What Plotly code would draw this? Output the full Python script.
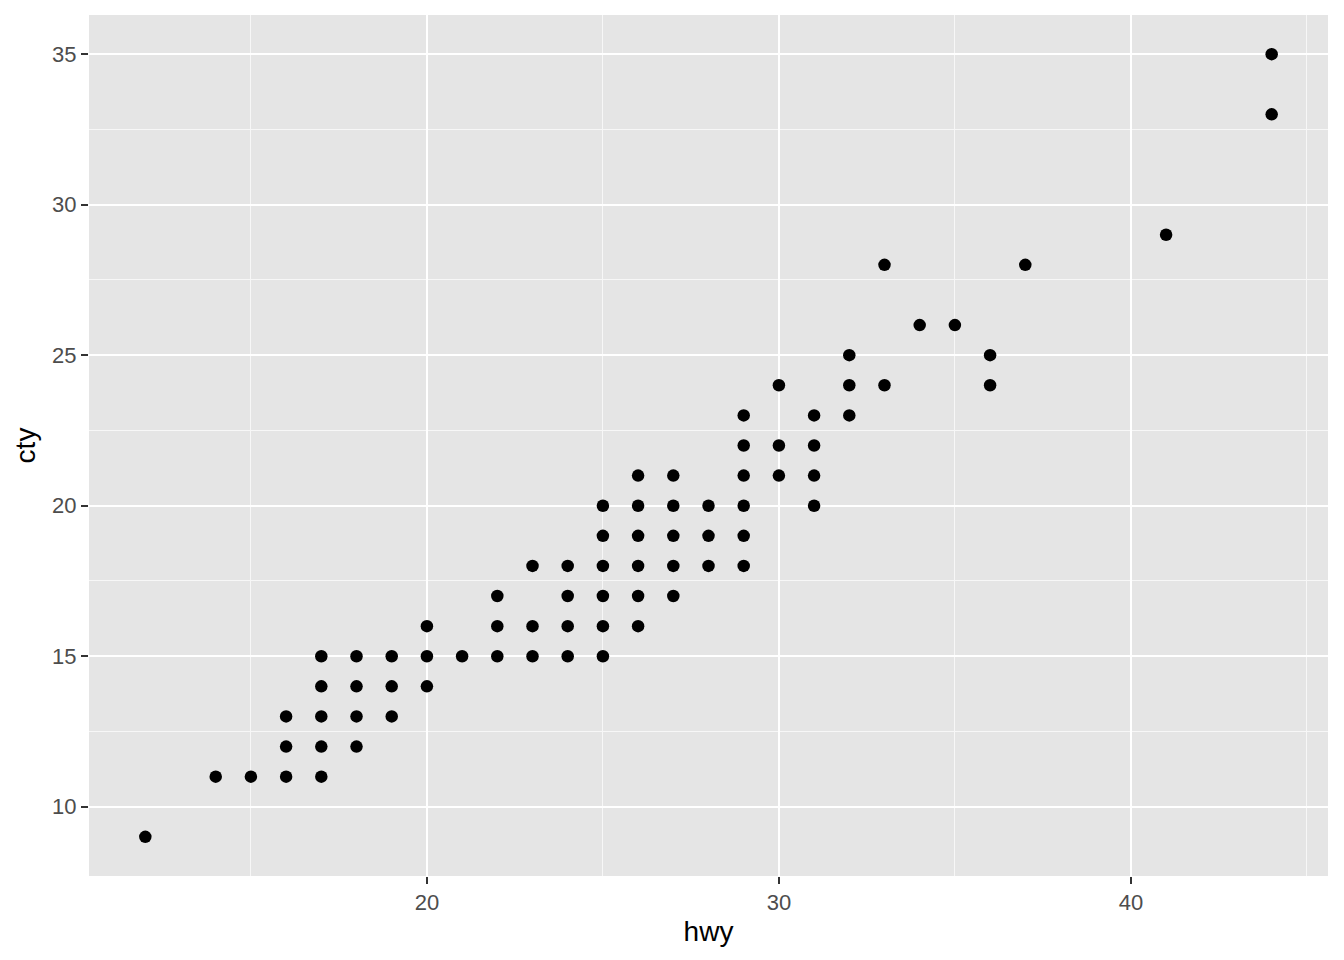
import plotly.graph_objects as go

# hwy -> cty values observed
hwy_vals = [12, 14, 15, 16, 16, 16, 17, 17, 17, 17, 17, 18, 18, 18, 18,
            19, 19, 19, 20, 20, 20, 21, 22, 22, 22, 23, 23, 23,
            24, 24, 24, 24, 25, 25, 25, 25, 25, 25,
            26, 26, 26, 26, 26, 26, 27, 27, 27, 27, 27,
            28, 28, 28, 29, 29, 29, 29, 29, 29, 30, 30, 30,
            31, 31, 31, 31, 32, 32, 32, 33, 33, 34, 35, 36, 36, 37, 41, 44, 44]
cty_vals = [9, 11, 11, 11, 12, 13, 11, 12, 13, 14, 15, 12, 13, 14, 15,
            13, 14, 15, 14, 15, 16, 15, 15, 16, 17, 15, 16, 18,
            15, 16, 17, 18, 15, 16, 17, 18, 19, 20,
            16, 17, 18, 19, 20, 21, 17, 18, 19, 20, 21,
            18, 19, 20, 18, 19, 20, 21, 22, 23, 21, 22, 24,
            20, 21, 22, 23, 23, 24, 25, 24, 28, 26, 26, 24, 25, 28, 29, 33, 35]

x_ticks = [20, 30, 40]
y_ticks = [10, 15, 20, 25, 30, 35]

fig = go.Figure(go.Scatter(
    x=hwy_vals, y=cty_vals, mode="markers",
    marker=dict(color="black", size=12.5, line=dict(width=0)),
    showlegend=False,
))

font_family = "Liberation Sans, Arial, sans-serif"
axis_common = dict(
    showgrid=True, gridcolor="white", gridwidth=2,
    zeroline=False, showline=False,
    ticks="outside", ticklen=7, tickwidth=2, tickcolor="#333333",
    tickfont=dict(family=font_family, size=22, color="#4D4D4D"),
)

fig.update_layout(
    width=1336, height=952,
    margin=dict(l=81, r=16, t=7, b=84),
    paper_bgcolor="white", plot_bgcolor="#E5E5E5",
    font=dict(family=font_family),
    xaxis=dict(range=[10.4, 45.6], tickvals=x_ticks,
               minor=dict(tickvals=[15, 25, 35, 45], showgrid=True, gridcolor="#F7F7F7", gridwidth=1.4, ticks=""),
               title=dict(text="hwy", font=dict(family=font_family, size=28, color="black"), standoff=6),
               **axis_common),
    yaxis=dict(range=[7.7, 36.3], tickvals=y_ticks,
               minor=dict(tickvals=[7.5, 12.5, 17.5, 22.5, 27.5, 32.5], showgrid=True, gridcolor="#F7F7F7", gridwidth=1.4, ticks=""),
               title=dict(text="cty", font=dict(family=font_family, size=28, color="black"), standoff=8),
               **axis_common),
)

fig.write_html("out.html")
